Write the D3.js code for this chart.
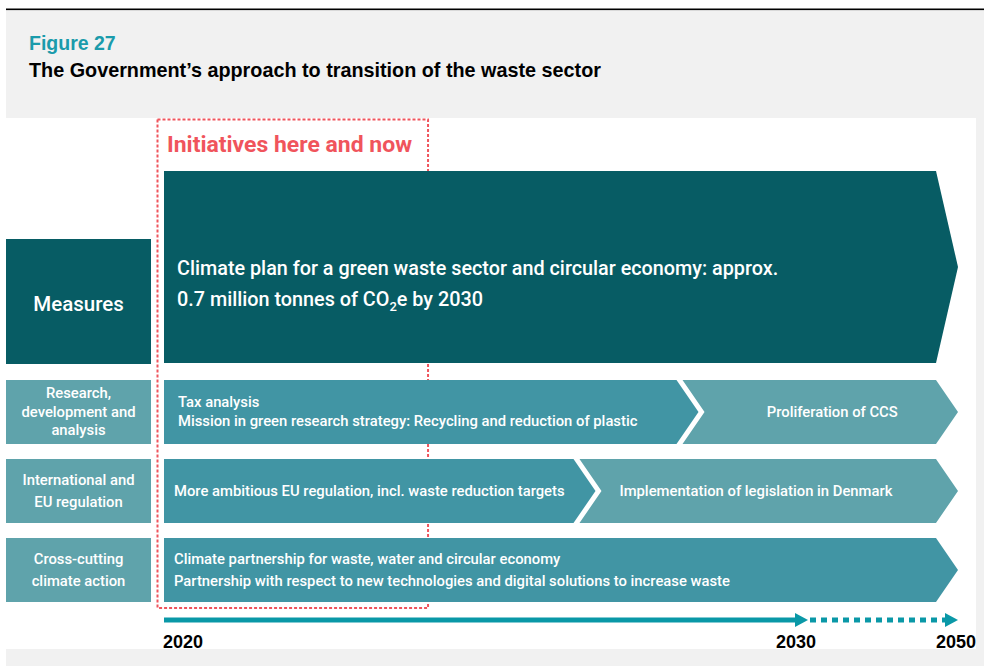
<!DOCTYPE html>
<html>
<head>
<meta charset="utf-8">
<script src="https://cdn.jsdelivr.net/npm/d3@7"></script>
<style>
  html, body { margin: 0; padding: 0; background: #ffffff; }
  svg { display: block; }
</style>
</head>
<body>
<svg id="chart" width="984" height="666"></svg>
<script>
// ---------------- DATA ----------------
const figureNumber = "Figure 27";
const figureTitle = "The Government\u2019s approach to transition of the waste sector";
const highlightLabel = "Initiatives here and now";
const highlightYears = [2020, 2024.1];

const timelineYears = [2020, 2030, 2050];
const timelineLabels = ["2020", "2030", "2050"];

const measureLabel = "Measures";
const measureLines = ["Climate plan for a green waste sector and circular economy: approx.",
                      "0.7 million tonnes of CO|2|e by 2030"];
const measureSpan = [2020, 2050];

const rowKeys = ["research", "international", "crosscutting"];
const rowLabels = [["Research,", "development and", "analysis"],
                   ["International and", "EU regulation"],
                   ["Cross-cutting", "climate action"]];
const rowSplitYears = [2028.3, 2026.7, null];
const rowFirstTexts = [["Tax analysis", "Mission in green research strategy: Recycling and reduction of plastic"],
                       ["More ambitious EU regulation, incl. waste reduction targets"],
                       ["Climate partnership for waste, water and circular economy",
                        "Partnership with respect to new technologies and digital solutions to increase waste"]];
const rowSecondTexts = [["Proliferation of CCS"],
                        ["Implementation of legislation in Denmark"],
                        null];

// ---------------- STYLE ----------------
const C = {
  gray: "#f1f1f1",
  dark: "#075c64",
  mid: "#4195a4",
  light: "#5fa3ab",
  line: "#0a98a7",
  red: "#f0545c",
  fig: "#1a9bab"
};
const sans = "'Liberation Sans', Arial, sans-serif";
const rob = "Roboto, 'Noto Sans', sans-serif";

const svg = d3.select("#chart");

// background frame
svg.append("rect").attr("x", 6).attr("y", 10).attr("width", 978).attr("height", 656).attr("fill", C.gray);
svg.append("rect").attr("x", 6).attr("y", 8.5).attr("width", 978).attr("height", 1.6).attr("fill", "#000");
svg.append("rect").attr("x", 6).attr("y", 118).attr("width", 970).attr("height", 531).attr("fill", "#fff");

// titles
svg.append("text").attr("x", 29).attr("y", 50).attr("font-family", sans).attr("font-weight", "bold")
  .attr("font-size", 19.5).attr("fill", C.fig).text(figureNumber);
svg.append("text").attr("x", 29).attr("y", 77).attr("font-family", sans).attr("font-weight", "bold")
  .attr("font-size", 19.8).attr("fill", "#000").text(figureTitle);

// ---------------- SCALES ----------------
const x = d3.scaleLinear().domain(timelineYears).range([164, 808, 958]);
const yRows = d3.scaleBand().domain(rowKeys).range([380, 602]).paddingInner(0.19).paddingOuter(0);
const bigTop = 171, bigBottom = 363;
const depth = 22, gap = 6;
const labelX0 = 6, labelX1 = 151;

function arrowPath(x0, x1, y0, y1, notch) {
  const m = (y0 + y1) / 2;
  const pts = [[x0, y0], [x1 - depth, y0], [x1, m], [x1 - depth, y1], [x0, y1]];
  if (notch) pts.push([x0 + depth, m]);
  return d3.line()(pts) + "Z";
}

// highlight dashed box
svg.append("rect")
  .attr("x", x(highlightYears[0]) - 6.5).attr("y", 119.5)
  .attr("width", x(highlightYears[1]) - x(highlightYears[0]) + 6.5).attr("height", 488.5)
  .attr("fill", "none").attr("stroke", C.red).attr("stroke-width", 2).attr("stroke-dasharray", "3,2");

svg.append("text").attr("x", x(highlightYears[0]) + 3).attr("y", 152)
  .attr("font-family", rob).attr("font-weight", 700).attr("font-size", 22.5)
  .attr("fill", C.red).attr("textLength", 245).attr("lengthAdjust", "spacingAndGlyphs")
  .text(highlightLabel);

// measures row
svg.append("rect").attr("x", labelX0).attr("y", 239).attr("width", labelX1 - labelX0).attr("height", 125).attr("fill", C.dark);
svg.append("text").attr("x", (labelX0 + labelX1) / 2).attr("y", 311).attr("text-anchor", "middle")
  .attr("font-family", rob).attr("font-weight", 500).attr("font-size", 20.5).attr("fill", "#fff").text(measureLabel);
svg.append("path").attr("d", arrowPath(x(measureSpan[0]), x(measureSpan[1]), bigTop, bigBottom, false)).attr("fill", C.dark);

measureLines.forEach((ln, i) => {
  const t = svg.append("text").attr("x", x(measureSpan[0]) + 13).attr("y", 275 + i * 31)
    .attr("font-family", rob).attr("font-weight", 500).attr("font-size", 19.8).attr("fill", "#fff");
  const parts = ln.split("|");
  if (parts.length === 1) { t.text(ln); }
  else {
    t.append("tspan").text(parts[0]);
    t.append("tspan").attr("dy", 5).attr("font-size", 13).text(parts[1]);
    t.append("tspan").attr("dy", -5).text(parts[2]);
  }
});

// rows
rowKeys.forEach((k, i) => {
  const y0 = yRows(k), y1 = y0 + yRows.bandwidth(), ym = (y0 + y1) / 2;
  // label box
  svg.append("rect").attr("x", labelX0).attr("y", y0).attr("width", labelX1 - labelX0).attr("height", y1 - y0).attr("fill", C.light);
  const lbl = rowLabels[i];
  const lh = lbl.length === 3 ? 18.5 : 22.5;
  lbl.forEach((s, j) => {
    svg.append("text").attr("x", (labelX0 + labelX1) / 2)
      .attr("y", ym + 5 + (j - (lbl.length - 1) / 2) * lh)
      .attr("text-anchor", "middle").attr("font-family", rob).attr("font-weight", 500)
      .attr("font-size", 14.8).attr("fill", "#fff").text(s);
  });
  const split = rowSplitYears[i];
  const firstEnd = split === null ? 2050 : split;
  svg.append("path").attr("d", arrowPath(x(2020), x(firstEnd), y0, y1, false)).attr("fill", C.mid);
  const ft = rowFirstTexts[i];
  const flh = ft.length === 2 ? (i === 0 ? 19 : 22) : 0;
  ft.forEach((s, j) => {
    svg.append("text").attr("x", x(2020) + (i === 0 ? 14 : 10))
      .attr("y", ym + 5 + (j - (ft.length - 1) / 2) * flh)
      .attr("font-family", rob).attr("font-weight", 500).attr("font-size", 14.8)
      .attr("fill", "#fff").text(s);
  });
  if (split !== null) {
    const sx0 = x(split) - depth + gap;
    svg.append("path").attr("d", arrowPath(sx0, x(2050), y0, y1, true)).attr("fill", C.light);
    const st = rowSecondTexts[i];
    st.forEach((s) => {
      const tx = i === 0 ? (sx0 + x(2050)) / 2 + 12 : sx0 + depth + 18;
      svg.append("text").attr("x", tx).attr("y", ym + 5)
        .attr("text-anchor", i === 0 ? "middle" : "start")
        .attr("font-family", rob).attr("font-weight", 500).attr("font-size", 14.8)
        .attr("fill", "#fff").text(s);
    });
  }
});

// timeline
const ty = 620;
svg.append("line").attr("x1", x(2020)).attr("x2", x(2030) - 12).attr("y1", ty).attr("y2", ty)
  .attr("stroke", C.line).attr("stroke-width", 5);
svg.append("path").attr("d", d3.line()([[x(2030) - 13, ty - 7], [x(2030), ty], [x(2030) - 13, ty + 7]]) + "Z").attr("fill", C.line);
svg.append("line").attr("x1", x(2030) + 2).attr("x2", x(2050) - 13).attr("y1", ty).attr("y2", ty)
  .attr("stroke", C.line).attr("stroke-width", 5).attr("stroke-dasharray", "6,5");
svg.append("path").attr("d", d3.line()([[x(2050) - 13, ty - 7], [x(2050), ty], [x(2050) - 13, ty + 7]]) + "Z").attr("fill", C.line);

const labelOffsets = [-1, 8, 18];
const labelAnchors = ["start", "end", "end"];
timelineYears.forEach((yr, i) => {
  svg.append("text").attr("x", x(yr) + labelOffsets[i]).attr("y", 648)
    .attr("text-anchor", labelAnchors[i]).attr("font-family", sans).attr("font-weight", "bold")
    .attr("font-size", 18).attr("fill", "#000").text(timelineLabels[i]);
});
</script>
</body>
</html>
